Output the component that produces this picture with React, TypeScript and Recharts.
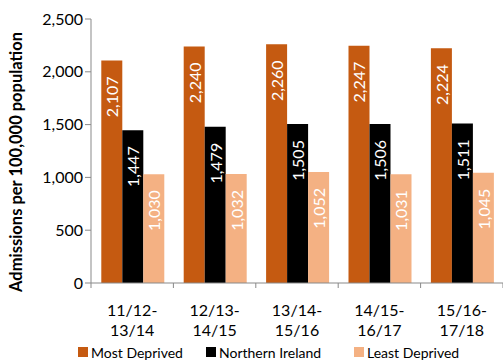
import { BarChart, Bar, XAxis, YAxis, Legend, LabelList } from "recharts";

const periods = ["11/12-13/14", "12/13-14/15", "13/14-15/16", "14/15-16/17", "15/16-17/18"];
const mostDeprived = [2107, 2240, 2260, 2247, 2224];
const northernIreland = [1447, 1479, 1505, 1506, 1511];
const leastDeprived = [1030, 1032, 1052, 1031, 1045];
const yTicks = [0, 500, 1000, 1500, 2000, 2500];

const series = [
  { key: "most", name: "Most Deprived", color: "#C55A11" },
  { key: "ni", name: "Northern Ireland", color: "#000000" },
  { key: "least", name: "Least Deprived", color: "#F4B183" },
];

const data = periods.map((p, i) => ({
  period: p,
  most: mostDeprived[i],
  ni: northernIreland[i],
  least: leastDeprived[i],
}));

const FONT = "Lato, 'Open Sans', sans-serif";
const fmt = (v: number) => v.toLocaleString("en-US");

// white rotated value label near the top of each bar
const BarValue = (props: any) => {
  const { x, y, width, value } = props;
  const cx = x + width / 2;
  const cy = y + 16;
  return (
    <text
      x={cx}
      y={cy}
      transform={`rotate(-90, ${cx}, ${cy})`}
      textAnchor="end"
      dominantBaseline="central"
      fill="#ffffff"
      fontSize={16}
      fontFamily={FONT}
    >
      {fmt(value)}
    </text>
  );
};

// two-line period label, tick marks sit between the categories
const PeriodTick = (props: any) => {
  const { x, y, payload, index } = props;
  const half = 41.2;
  const [a, b] = String(payload.value).split("-");
  return (
    <g>
      <line x1={x - half} x2={x - half} y1={y - 8} y2={y - 3} stroke="#898989" />
      {index === periods.length - 1 && (
        <line x1={x + half} x2={x + half} y1={y - 8} y2={y - 3} stroke="#898989" />
      )}
      <text x={x} y={y + 25} textAnchor="middle" fontSize={16} fontFamily={FONT} fill="#000">
        {a}-
      </text>
      <text x={x} y={y + 45} textAnchor="middle" fontSize={16} fontFamily={FONT} fill="#000">
        {b}
      </text>
    </g>
  );
};

const YTitle = () => (
  <text
    x={16}
    y={162}
    transform="rotate(-90, 16, 162)"
    textAnchor="middle"
    dominantBaseline="central"
    fontSize={16.5}
    fontWeight="bold"
    fontFamily={FONT}
    fill="#000"
  >
    Admissions per 100,000 population
  </text>
);

const LegendBox = () => (
  <div style={{ position: "relative", height: 18, fontFamily: FONT, fontSize: 14, color: "#000" }}>
    {series.map((s, i) => (
      <div
        key={s.key}
        style={{ position: "absolute", left: [78, 206, 354][i], top: 0, display: "flex", alignItems: "center", height: 18 }}
      >
        <span style={{ width: 10, height: 10, background: s.color, display: "inline-block", marginRight: 3 }} />
        <span>{s.name}</span>
      </div>
    ))}
  </div>
);

export default function App() {
  return (
    <div style={{ position: "absolute", left: 0, top: 0, width: 503, height: 361, background: "#fff" }}>
      <BarChart
        width={503}
        height={361}
        data={data}
        margin={{ top: 19, right: 0, bottom: 0, left: 0 }}
        barCategoryGap="12.5%"
        barGap={0}
      >
        <XAxis
          dataKey="period"
          height={60}
          axisLine={{ stroke: "#898989" }}
          tickLine={false}
          tick={<PeriodTick />}
          interval={0}
        />
        <YAxis
          width={91}
          domain={[0, 2500]}
          ticks={yTicks}
          tickFormatter={fmt}
          axisLine={{ stroke: "#898989" }}
          tickLine={{ stroke: "#898989" }}
          tickSize={6}
          tick={{ fill: "#000", fontSize: 16, fontFamily: FONT }}
          label={<YTitle />}
        />
        <Legend verticalAlign="bottom" height={18} content={<LegendBox />} wrapperStyle={{ left: 0, width: 503 }} />
        {series.map((s) => (
          <Bar key={s.key} dataKey={s.key} name={s.name} fill={s.color} isAnimationActive={false}>
            <LabelList dataKey={s.key} content={<BarValue />} />
          </Bar>
        ))}
      </BarChart>
    </div>
  );
}
